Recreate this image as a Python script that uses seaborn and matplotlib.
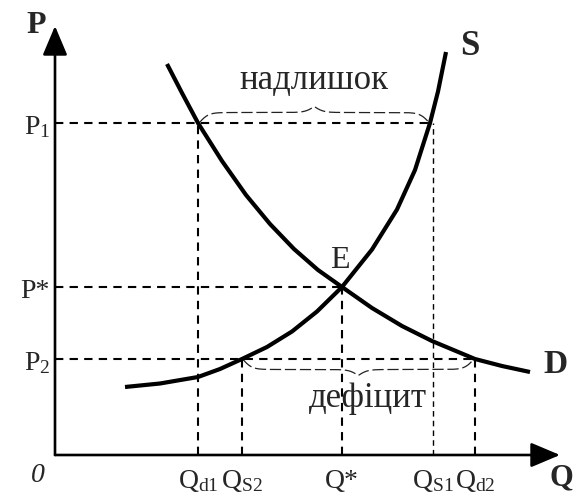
import numpy as np
import pandas as pd
import matplotlib
matplotlib.use("Agg")
import matplotlib.pyplot as plt
import seaborn as sns

# ---------------- data ----------------
q_labels = [r"$\mathregular{Q_{d1}}$", r"$\mathregular{Q_{S2}}$", "Q*",
            r"$\mathregular{Q_{S1}}$", r"$\mathregular{Q_{d2}}$"]
q_values = [2.86, 3.74, 5.74, 7.56, 8.40]
p_labels = [r"$\mathregular{P_{1}}$", "P*", r"$\mathregular{P_{2}}$"]
p_values = [6.64, 3.36, 1.92]
# price level reached by each Q mark (index into p_values)
q_level_idx = [0, 2, 1, 0, 2]

demand_q = [2.24, 2.54, 2.86, 3.34, 3.82, 4.30, 4.78, 5.26, 5.74, 6.34, 6.94, 7.54, 8.40, 8.94, 9.50]
demand_p = [7.82, 7.24, 6.64, 5.88, 5.20, 4.62, 4.12, 3.70, 3.36, 2.94, 2.58, 2.28, 1.92, 1.78, 1.66]
supply_q = [1.40, 2.10, 2.86, 3.30, 3.74, 4.24, 4.74, 5.24, 5.74, 6.34, 6.84, 7.20, 7.50, 7.66, 7.82]
supply_p = [1.36, 1.43, 1.56, 1.72, 1.92, 2.16, 2.47, 2.87, 3.36, 4.11, 4.91, 5.70, 6.64, 7.27, 8.06]

surplus_text = "надлишок"
deficit_text = "дефіцит"

# ---------------- figure ----------------
sns.set_theme(style="white")
plt.rcParams["font.family"] = ["Liberation Serif", "DejaVu Serif"]
plt.rcParams["mathtext.fontset"] = "custom"
plt.rcParams["mathtext.rm"] = "Liberation Serif"
plt.rcParams["mathtext.it"] = "Liberation Serif:italic"

fig = plt.figure(figsize=(5.76, 4.95), dpi=100)
ax = fig.add_axes([0, 0, 1, 1])
ax.set_xlim(-1.1, 10.42)
ax.set_ylim(-0.8, 9.1)
ax.axis("off")

dem = pd.DataFrame({"Q": demand_q, "P": demand_p})
sup = pd.DataFrame({"Q": supply_q, "P": supply_p})
for df in (dem, sup):
    sns.lineplot(data=df, x="Q", y="P", ax=ax, color="black", lw=3.0, sort=False,
                 estimator=None, solid_capstyle="butt", solid_joinstyle="round", zorder=5)

# axes arrows
arrow = dict(arrowstyle="-|>,head_length=0.9,head_width=0.38", lw=1.9, color="black",
             shrinkA=0, shrinkB=0, mutation_scale=20)
ax.annotate("", xy=(10.1, 0), xytext=(0, 0), arrowprops=arrow, annotation_clip=False)
ax.annotate("", xy=(0, 8.58), xytext=(0, 0), arrowprops=arrow, annotation_clip=False)

# guide lines
dash = dict(color="black", lw=1.5, dashes=(4, 3))
ax.plot([0, q_values[3]], [p_values[0]] * 2, **dash)
ax.plot([0, q_values[2]], [p_values[1]] * 2, **dash)
ax.plot([0, q_values[4]], [p_values[2]] * 2, **dash)
for q, i in zip(q_values, q_level_idx):
    lw = 1.0 if q == q_values[3] else 1.5
    ax.plot([q, q], [0, p_values[i]], color="black", lw=lw, dashes=(4, 3))


def brace(x0, x1, y, up=True, a=0.2, b=0.12, beta=11.0):
    xm = (x0 + x1) / 2
    xl = np.linspace(x0, xm, 200)
    yl = a * (2 / (1 + np.exp(-beta * (xl - x0))) - 1) + 2 * b / (1 + np.exp(-beta * (xl - xm)))
    xs = np.concatenate([xl, (x0 + x1) - xl[::-1]])
    ys = np.concatenate([yl, yl[::-1]])
    s = 1 if up else -1
    ax.plot(xs, y + s * ys, color="#222222", lw=0.9, dashes=(9, 3))


brace(q_values[0] + 0.03, q_values[3] - 0.08, p_values[0] + 0.01, up=True)
brace(q_values[1] + 0.02, q_values[4] - 0.03, p_values[2] - 0.01, up=False)

# text
fs = 20
for q, lab in zip(q_values, q_labels):
    ax.text(q, -0.66, lab, ha="center", va="baseline", fontsize=fs)
for p, lab in zip(p_values, p_labels):
    ax.text(-0.1, p - 0.22, lab, ha="right", va="baseline", fontsize=fs)

ax.text(-0.34, -0.54, "0", ha="center", va="baseline", fontsize=fs, style="italic")
ax.text(-0.38, 8.44, "P", ha="center", va="baseline", fontsize=23, weight="bold")
ax.text(10.12, -0.6, "Q", ha="center", va="baseline", fontsize=22, weight="bold")
ax.text(8.3, 8.0, "S", ha="center", va="baseline", fontsize=25, weight="bold")
ax.text(10.0, 1.64, "D", ha="center", va="baseline", fontsize=24, weight="bold")
ax.text(5.7, 3.74, "E", ha="center", va="baseline", fontsize=23)
ax.text(5.18, 7.32, surplus_text, ha="center", va="baseline", fontsize=25)
ax.text(6.26, 0.96, deficit_text, ha="center", va="baseline", fontsize=25)

fig.savefig("out.png", dpi=100)
